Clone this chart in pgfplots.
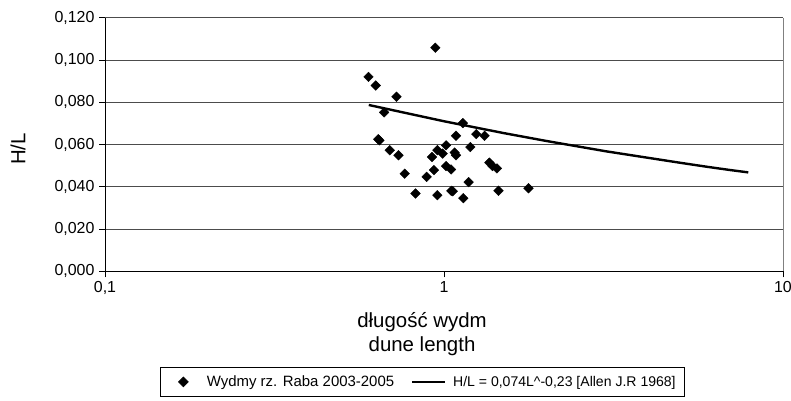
\documentclass[border=0pt]{standalone}
\usepackage{pgfplots}
\pgfplotsset{compat=1.18}
\usepackage{fontspec}
\setmainfont{Liberation Sans}
\pgfplotsset{
  mylegA/.style={legend image code/.code={\path[draw=none,fill=none] (0bp,0bp) (33bp,0bp); \draw[mark repeat=2,mark phase=2,##1] plot coordinates {(0bp,0bp) (16.5bp,0bp) (33bp,0bp)};}},
  mylegB/.style={legend image code/.code={\draw[##1, line width=2bp] (0bp,0bp) -- (33bp,0bp);}},
}
\begin{document}
\begin{tikzpicture}
\begin{axis}[
  scale only axis,
  width=678bp, height=253.6bp,
  xmode=log,
  xmin=0.1, xmax=10,
  ymin=0, ymax=0.12,
  axis x line*=bottom, axis y line*=left,
  axis line style={black, line width=0.9bp},
  xtick={0.1,1,10}, xticklabels={{0,1},{1},{10}},
  xminorticks=false,
  ytick={0,0.02,0.04,0.06,0.08,0.1,0.12},
  /pgf/number format/fixed, /pgf/number format/fixed zerofill, /pgf/number format/precision=3, /pgf/number format/use comma, /pgf/number format/assume math mode=true,
  ymajorgrids, xmajorgrids=false,
  extra x ticks={10}, extra x tick labels={},
  extra x tick style={grid=major, major grid style={gray, line width=0.9bp}, major tick length=0pt},
  major grid style={black!70, line width=0.8bp},
  tick align=outside, major tick length=6bp,
  tick style={black, line width=0.8bp},
  tick label style={font=\fontsize{16}{19}\selectfont},
  xticklabel style={yshift=-1bp},
  yticklabel style={xshift=-1bp},
  xlabel={długość wydm\\dune length},
  xlabel style={font=\fontsize{20.5}{24.7}\selectfont, align=center, inner sep=0pt, at={(axis description cs:0.4676,-0.1605)}, anchor=north},
  ylabel={H/L},
  ylabel style={font=\fontsize{20.5}{24}\selectfont, inner sep=0pt, at={(axis description cs:-0.1283,0.482)}, anchor=center},
  legend columns=2,
  legend style={at={(axis description cs:0.0811,-0.377)}, anchor=north west, draw=black, line width=0.8bp, font=\fontsize{15}{18}\selectfont, inner xsep=6.5bp, inner ysep=6.5bp,
    /tikz/every odd column/.append style={column sep=5bp},
    /tikz/every even column/.append style={column sep=15bp}},
  legend cell align=left,
  clip=false,
]
\addplot[only marks, mark=square*, mark size=3.4bp, mark options={rotate=45, fill=black, draw=black}, mylegA] coordinates {
(0.943,0.1058) (0.599,0.0920) (0.629,0.0879) (0.724,0.0826) (0.666,0.0752)
(1.137,0.0701) (0.640,0.0625) (0.645,0.0620) (1.085,0.0641) (1.245,0.0649) (1.317,0.0641)
(1.014,0.0596) (1.196,0.0588) (0.956,0.0573) (0.991,0.0557) (0.692,0.0573)
(0.734,0.0549) (0.922,0.0541) (1.075,0.0562) (1.085,0.0549) (1.361,0.0514)
(1.391,0.0498) (1.433,0.0487) (1.014,0.0498) (1.049,0.0482) (0.934,0.0479)
(0.766,0.0462) (0.889,0.0447) (1.182,0.0422) (0.824,0.0368) (0.956,0.0360)
(1.051,0.0381) (1.061,0.0379) (1.140,0.0346) (1.448,0.0381) (1.775,0.0393)
};
\addlegendentry{Wydmy rz. Raba 2003-2005}
\addplot[black, line width=2.4bp, no marks, mylegB] coordinates {
(0.6,0.0787) (1.0,0.0710) (1.5,0.0654) (2.0,0.0617) (3.0,0.0568)
(4.0,0.0537) (5.0,0.0513) (6.0,0.0494) (7.0,0.0479) (7.9,0.0468)
};
\addlegendentry{\fontsize{14.1}{18}\selectfont H/L = 0,074L\textasciicircum-0,23 [Allen J.R 1968]}
\end{axis}
\pgfresetboundingbox
\path[use as bounding box] ([shift={(-105bp,-129.7bp)}]current axis.south west) rectangle ++(791bp,401bp);
\end{tikzpicture}
\end{document}
